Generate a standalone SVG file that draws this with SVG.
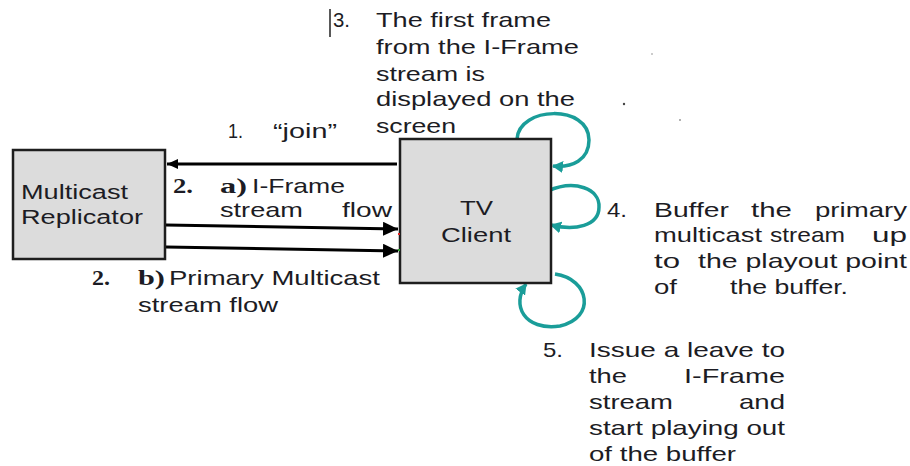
<svg xmlns="http://www.w3.org/2000/svg" width="910" height="466" viewBox="0 0 910 466">
<style>
.t{font-family:"Liberation Sans",Arial,sans-serif;font-size:21px;fill:#1c1c24}
.n{font-family:"Liberation Sans",Arial,sans-serif;font-size:20px;fill:#1c1c24}
.b{font-family:"Liberation Serif","Times New Roman",serif;font-size:21px;font-weight:bold;fill:#1c1c24}
.box{fill:#dcdcdc;stroke:#1e1e1e;stroke-width:2.5}
.blk{stroke:#000;stroke-width:3;fill:none}
.loop{stroke:#1a9d99;stroke-width:3.5;fill:none;marker-end:url(#tealHead)}
</style>
<defs>
<marker id="blackHead" markerUnits="userSpaceOnUse" markerWidth="16" markerHeight="14" refX="15" refY="7" orient="auto">
<path d="M0,0 L15,7 L0,14 z" fill="#000"/>
</marker>
<marker id="smallHead" markerUnits="userSpaceOnUse" markerWidth="12" markerHeight="10" refX="11" refY="5" orient="auto">
<path d="M0,0 L11,5 L0,10 z" fill="#000"/>
</marker>
<marker id="tealHead" markerUnits="userSpaceOnUse" markerWidth="12" markerHeight="12" refX="10" refY="6" orient="auto">
<path d="M0,0 L11,6 L0,12 z" fill="#1a9d99"/>
</marker>
</defs>

<g id="connectors">
<line class="blk" x1="397" y1="164" x2="167" y2="164" marker-end="url(#smallHead)"/>
<line class="blk" x1="166" y1="225" x2="398" y2="229" marker-end="url(#blackHead)"/>
<line class="blk" x1="166" y1="247" x2="398" y2="251" marker-end="url(#blackHead)"/>
<path class="loop" d="M517,139 C519,106 589,104 589,140 C589,160 572,168 553,166"/>
<path class="loop" d="M548,191 C575,179 600,189 599,207 C599,226 575,231 551,225"/>
<path class="loop" d="M555,274 C590,279 596,318 560,326 C524,331 511,305 526,284"/>
</g>

<g id="multicast-replicator">
<rect class="box" x="13" y="150" width="152" height="109"/>
<text class="n" x="21" y="199" textLength="107" lengthAdjust="spacingAndGlyphs">Multicast</text>
<text class="n" x="21" y="224" textLength="122" lengthAdjust="spacingAndGlyphs">Replicator</text>
</g>

<g id="tv-client">
<rect class="box" x="400" y="139" width="151" height="144"/>
<text class="n" x="460" y="215" textLength="33" lengthAdjust="spacingAndGlyphs">TV</text>
<text class="n" x="441" y="242" textLength="70" lengthAdjust="spacingAndGlyphs">Client</text>
</g>

<g id="label-join">
<text class="t" x="228" y="138" textLength="15" lengthAdjust="spacingAndGlyphs">1.</text>
<text class="t" x="273" y="138" textLength="64" lengthAdjust="spacingAndGlyphs">“join”</text>
</g>

<g id="label-2a">
<text class="b" x="173" y="193" textLength="20" lengthAdjust="spacingAndGlyphs">2.</text>
<text class="b" x="220" y="193" textLength="27" lengthAdjust="spacingAndGlyphs">a)</text>
<text class="t" x="252" y="193" textLength="93" lengthAdjust="spacingAndGlyphs">I-Frame</text>
<text class="t" x="220" y="217" textLength="83" lengthAdjust="spacingAndGlyphs">stream</text>
<text class="t" x="342" y="217" textLength="50" lengthAdjust="spacingAndGlyphs">flow</text>
</g>

<g id="label-2b">
<text class="b" x="92" y="285" textLength="18" lengthAdjust="spacingAndGlyphs">2.</text>
<text class="b" x="138" y="285" textLength="27" lengthAdjust="spacingAndGlyphs">b)</text>
<text class="t" x="169" y="285" textLength="211" lengthAdjust="spacingAndGlyphs">Primary Multicast</text>
<text class="t" x="138" y="312" textLength="140" lengthAdjust="spacingAndGlyphs">stream flow</text>
</g>

<g id="label-3">
<line x1="330" y1="9" x2="330" y2="37" stroke="#222" stroke-width="1.5"/>
<text class="t" x="333" y="27" textLength="17" lengthAdjust="spacingAndGlyphs">3.</text>
<text class="t" x="376" y="27" textLength="175" lengthAdjust="spacingAndGlyphs">The first frame</text>
<text class="t" x="376" y="54" textLength="203" lengthAdjust="spacingAndGlyphs">from the I-Frame</text>
<text class="t" x="376" y="81" textLength="109" lengthAdjust="spacingAndGlyphs">stream is</text>
<text class="t" x="376" y="106" textLength="199" lengthAdjust="spacingAndGlyphs">displayed on the</text>
<text class="t" x="376" y="133" textLength="80" lengthAdjust="spacingAndGlyphs">screen</text>
</g>

<g id="label-4">
<text class="t" x="607" y="217" textLength="20" lengthAdjust="spacingAndGlyphs">4.</text>
<text class="t" x="654" y="217" textLength="75" lengthAdjust="spacingAndGlyphs">Buffer</text>
<text class="t" x="751" y="217" textLength="41" lengthAdjust="spacingAndGlyphs">the</text>
<text class="t" x="815" y="217" textLength="92" lengthAdjust="spacingAndGlyphs">primary</text>
<text class="t" x="654" y="242" textLength="108" lengthAdjust="spacingAndGlyphs">multicast</text>
<text class="t" x="770" y="242" textLength="75" lengthAdjust="spacingAndGlyphs">stream</text>
<text class="t" x="872" y="242" textLength="35" lengthAdjust="spacingAndGlyphs">up</text>
<text class="t" x="654" y="268" textLength="26" lengthAdjust="spacingAndGlyphs">to</text>
<text class="t" x="698" y="268" textLength="209" lengthAdjust="spacingAndGlyphs">the playout point</text>
<text class="t" x="654" y="294" textLength="23" lengthAdjust="spacingAndGlyphs">of</text>
<text class="t" x="730" y="294" textLength="118" lengthAdjust="spacingAndGlyphs">the buffer.</text>
</g>

<g id="label-5">
<text class="t" x="543" y="357" textLength="20" lengthAdjust="spacingAndGlyphs">5.</text>
<text class="t" x="589" y="357" textLength="196" lengthAdjust="spacingAndGlyphs">Issue a leave to</text>
<text class="t" x="589" y="383" textLength="38" lengthAdjust="spacingAndGlyphs">the</text>
<text class="t" x="684" y="383" textLength="101" lengthAdjust="spacingAndGlyphs">I-Frame</text>
<text class="t" x="589" y="409" textLength="84" lengthAdjust="spacingAndGlyphs">stream</text>
<text class="t" x="739" y="409" textLength="46" lengthAdjust="spacingAndGlyphs">and</text>
<text class="t" x="589" y="435" textLength="196" lengthAdjust="spacingAndGlyphs">start playing out</text>
<text class="t" x="589" y="461" textLength="147" lengthAdjust="spacingAndGlyphs">of the buffer</text>
</g>

<g id="specks">
<circle cx="652" cy="54" r="1" fill="#bbb"/>
<circle cx="624" cy="104" r="1.2" fill="#444"/>
<circle cx="680" cy="120" r="1" fill="#999"/>
<rect x="398" y="233" width="2" height="2" fill="#e02020"/>
<rect x="398" y="249" width="2" height="2" fill="#30a030"/>
</g>
</svg>
